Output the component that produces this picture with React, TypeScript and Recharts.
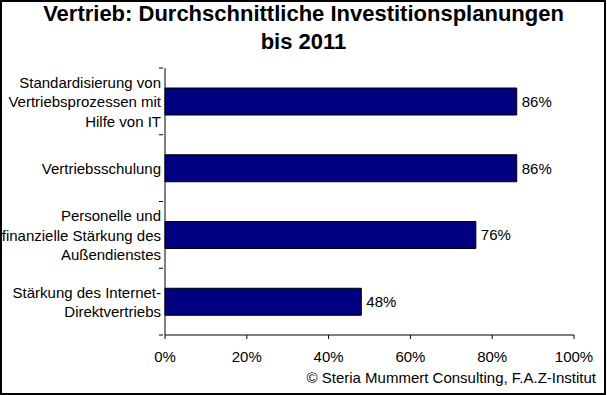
import React from 'react';
import { BarChart, Bar, XAxis, YAxis, LabelList } from 'recharts';

// Kategorien (mehrzeilig wie im Original)
const categories = [
  ['Standardisierung von', 'Vertriebsprozessen mit', 'Hilfe von IT'],
  ['Vertriebsschulung'],
  ['Personelle und', 'finanzielle Stärkung des', 'Außendienstes'],
  ['Stärkung des Internet-', 'Direktvertriebs'],
];
const values = [86, 86, 76, 48];
const xTicks = [0, 20, 40, 60, 80, 100];

const data = categories.map((lines, i) => ({
  name: lines.join(' '),
  value: values[i],
}));

const W = 607;
const H = 395;
const PLOT_TOP = 68;
const PLOT_BOTTOM = 335;
const BAND = (PLOT_BOTTOM - PLOT_TOP) / categories.length;
const FONT = 'Arial, "Liberation Sans", sans-serif';

const CategoryTick = ({ x, y, payload, index }: any) => {
  const lines = categories[index] || [payload.value];
  const lh = 19.5;
  return (
    <g>
      {index === 0 && (
        <line x1={x + 2} x2={x + 6} y1={y - BAND / 2} y2={y - BAND / 2} stroke="#000" />
      )}
      <line x1={x + 2} x2={x + 6} y1={y + BAND / 2} y2={y + BAND / 2} stroke="#000" />
      <text textAnchor="end" fontSize={15} fontFamily={FONT} fill="#000">
        {lines.map((l: string, i: number) => (
          <tspan key={i} x={x + 4} y={y + 6 + (i - (lines.length - 1) / 2) * lh}>
            {l}
          </tspan>
        ))}
      </text>
    </g>
  );
};

export default function App() {
  return (
    <div
      style={{
        position: 'absolute',
        left: 0,
        top: 0,
        width: W,
        height: H,
        background: '#fff',
        fontFamily: FONT,
      }}
    >
      <div
        style={{
          position: 'absolute',
          left: 0,
          top: 0,
          width: W - 1,
          height: H,
          border: '2px solid #000',
          boxSizing: 'border-box',
        }}
      />
      <div
        style={{
          position: 'absolute',
          left: 0,
          top: 0,
          width: W,
          textAlign: 'center',
          fontSize: 22,
          fontWeight: 'bold',
          lineHeight: '28px',
        }}
      >
        Vertrieb: Durchschnittliche Investitionsplanungen
        <br />
        bis 2011
      </div>
      <BarChart
        width={W}
        height={H}
        data={data}
        layout="vertical"
        margin={{ top: PLOT_TOP, right: 33, bottom: H - PLOT_BOTTOM - 30, left: 0 }}
        style={{ position: 'absolute', left: 0, top: 0 }}
      >
        <XAxis
          type="number"
          domain={[0, 100]}
          ticks={xTicks}
          tickFormatter={(v: number) => `${v}%`}
          height={30}
          stroke="#000"
          tickSize={4}
          tickMargin={12}
          tick={{ fill: '#000', fontSize: 15, fontFamily: FONT }}
          interval={0}
        />
        <YAxis
          type="category"
          dataKey="name"
          width={165}
          stroke="#000"
          tickLine={false}
          tick={<CategoryTick />}
          interval={0}
        />
        <Bar dataKey="value" fill="#000080" stroke="#000" strokeWidth={1} barSize={27} isAnimationActive={false}>
          <LabelList
            dataKey="value"
            position="right"
            offset={5}
            formatter={(v: any) => `${v}%`}
            style={{ fill: '#000', fontSize: 15, fontFamily: FONT }}
          />
        </Bar>
      </BarChart>
      <div
        style={{
          position: 'absolute',
          right: 11,
          top: 369,
          fontSize: 15,
          lineHeight: '17px',
          whiteSpace: 'nowrap',
        }}
      >
        © Steria Mummert Consulting, F.A.Z-Institut
      </div>
    </div>
  );
}
